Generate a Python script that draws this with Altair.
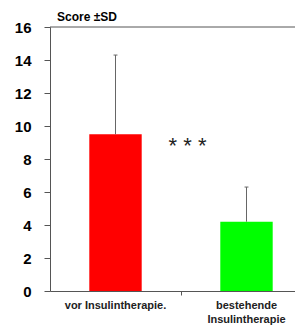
import altair as alt
import pandas as pd

categories = ["vor Insulintherapie.", "bestehende\nInsulintherapie"]
positions = [0.5, 1.5]
means = [9.5, 4.2]
sds = [4.8, 2.1]
colors = ["#ff0000", "#00ff00"]
y_ticks = [0, 2, 4, 6, 8, 10, 12, 14, 16]

df = pd.DataFrame({
    "cat": categories,
    "pos": positions,
    "mean": means,
    "sd": sds,
    "color": colors,
})
df["x1"] = df["pos"] - 0.2
df["x2"] = df["pos"] + 0.2
df["top"] = df["mean"] + df["sd"]
df["zero"] = 0.0
df["c1"] = df["pos"] - 0.015
df["c2"] = df["pos"] + 0.015

W, H = 245, 264
FONT = "Liberation Sans"

xs = alt.Scale(domain=[0, 245 / 131], nice=False, zero=False)
ys = alt.Scale(domain=[0, 16], nice=False)

x_axis = alt.Axis(values=[1], labels=False, ticks=True, tickSize=4,
                  domainColor="#555", tickColor="#555", grid=False, title=None)
y_axis = alt.Axis(values=y_ticks, grid=False, title=None, tickSize=6,
                  labelPadding=13, labelFont=FONT, labelFontSize=15,
                  labelFontWeight="bold", labelColor="#000", labelOverlap=False,
                  domainColor="#555", tickColor="#555")

base = alt.Chart(df)

bars = base.mark_bar(stroke=None).encode(
    x=alt.X("x1:Q", scale=xs, axis=x_axis),
    x2="x2:Q",
    y=alt.Y("mean:Q", scale=ys, axis=y_axis),
    y2="zero:Q",
    color=alt.Color("color:N", scale=None),
)

err = base.mark_rule(color="#666", strokeWidth=1).encode(
    x=alt.X("pos:Q", scale=xs, axis=x_axis), y=alt.Y("mean:Q", scale=ys, axis=y_axis), y2="top:Q"
)
caps = base.mark_rule(color="#666", strokeWidth=1).encode(
    x=alt.X("c1:Q", scale=xs, axis=x_axis), x2="c2:Q", y=alt.Y("top:Q", scale=ys, axis=y_axis)
)

toprule = alt.Chart(pd.DataFrame({"v": [16]})).mark_rule(color="#555", strokeWidth=1).encode(
    y=alt.Y("v:Q", scale=ys, axis=y_axis), x=alt.value(0), x2=alt.value(W)
)

labels = base.mark_text(font=FONT, fontSize=11, fontWeight="bold", color="#222",
                        baseline="middle", lineBreak="\n", lineHeight=14).encode(
    x=alt.X("pos:Q", scale=xs, axis=x_axis), y=alt.value(H + 15), text="cat:N"
)

stars = alt.Chart(pd.DataFrame({"x": [1.05], "y": [8.8], "t": ["* * *"]})).mark_text(
    font=FONT, fontSize=22, color="#222", baseline="middle"
).encode(x=alt.X("x:Q", scale=xs, axis=x_axis), y=alt.Y("y:Q", scale=ys, axis=y_axis), text="t:N")

title = alt.Chart(pd.DataFrame({"t": ["Score ±SD"]})).mark_text(
    font=FONT, fontSize=12, fontWeight="bold", color="#000", align="left", baseline="bottom"
).encode(x=alt.value(7), y=alt.value(-3), text="t:N")

chart = alt.layer(bars, err, caps, toprule, labels, stars, title).properties(
    width=W, height=H,
    autosize=alt.AutoSizeParams(type="none"),
    padding={"left": 42, "top": 19, "right": 0, "bottom": 35},
).configure_view(stroke=None)

chart.save("out.html", embed_options={"renderer": "svg", "actions": False})
